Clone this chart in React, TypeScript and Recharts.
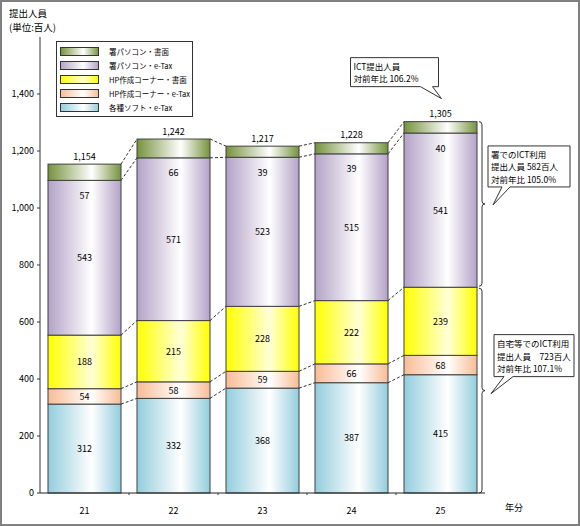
import React from 'react';
import { BarChart, Bar, XAxis, YAxis, Legend } from 'recharts';

const YEARS = ['21', '22', '23', '24', '25'];
const SOFT_ETAX = [312, 332, 368, 387, 415];
const HP_ETAX = [54, 58, 59, 66, 68];
const HP_PAPER = [188, 215, 228, 222, 239];
const OFFICE_ETAX = [543, 571, 523, 515, 541];
const OFFICE_PAPER = [57, 66, 39, 39, 40];
const TOTAL_LABELS = ['1,154', '1,242', '1,217', '1,228', '1,305'];
const Y_TICKS = [0, 200, 400, 600, 800, 1000, 1200, 1400];

const SERIES_KEYS = ['soft', 'hpEtax', 'hpPaper', 'officeEtax', 'officePaper'];
const SERIES_NAMES = ['各種ソフト・e-Tax', 'HP作成コーナー・e-Tax', 'HP作成コーナー・書面', '署パソコン・e-Tax', '署パソコン・書面'];
const SERIES_VALUES = [SOFT_ETAX, HP_ETAX, HP_PAPER, OFFICE_ETAX, OFFICE_PAPER];
const SERIES_COLORS = ['#93cddd', '#f8bc95', '#ffff00', '#b3a2c7', '#76923c'];
const SERIES_MID = ['#ffffff', '#ffffff', '#ffffd8', '#ffffff', '#ffffff'];

const ICT_NOTE = ['ICT提出人員', '対前年比 106.2%'];
const OFFICE_NOTE = ['署でのICT利用', '提出人員 582百人', '対前年比 105.0%'];
const HOME_NOTE = ['自宅等でのICT利用', '提出人員　723百人', '対前年比 107.1%'];

const data = YEARS.map((year, i) => {
  const row: any = { year };
  SERIES_KEYS.forEach((k, s) => { row[k] = SERIES_VALUES[s][i]; });
  return row;
});

const W = 580;
const H = 526;
const Y_W = 40;
const X_H = 33;
const MARGIN = { top: 37, right: 95, bottom: 0, left: 0 };
const PLOT_W = W - Y_W - MARGIN.right;
const STEP = PLOT_W / YEARS.length;
const PLOT_BOTTOM = H - X_H;
const FONT = '"Noto Sans CJK JP", "Noto Sans", sans-serif';
const NOTE_LH = 12.5;

const cum = (s: number, i: number) => SERIES_VALUES.slice(0, s).reduce((a, v) => a + v[i], 0);

function brace(xb: number, y1: number, y2: number) {
  const w = 3;
  const ym = (y1 + y2) / 2;
  return `M ${xb} ${y1} Q ${xb + w} ${y1} ${xb + w} ${y1 + w} L ${xb + w} ${ym - w} Q ${xb + w} ${ym} ${xb + 2 * w} ${ym} Q ${xb + w} ${ym} ${xb + w} ${ym + w} L ${xb + w} ${y2 - w} Q ${xb + w} ${y2} ${xb} ${y2}`;
}

function callout(left: number, top: number, right: number, bottom: number, b1: number, b2: number, tx: number, ty: number) {
  return `M ${left} ${top} H ${right} V ${bottom} H ${b2} L ${tx} ${ty} L ${b1} ${bottom} H ${left} Z`;
}

function noteText(lines: string[], x: number, y: number) {
  return lines.map((t, k) => (
    <text key={k} x={x} y={y + k * NOTE_LH} fontSize={8.5} fill="#000" fontFamily={FONT} dominantBaseline="central">{t}</text>
  ));
}

function makeShape(s: number) {
  return (props: any) => {
    const { x, y, width, height, index } = props;
    const v = SERIES_VALUES[s][index];
    const ratio = height / v;
    const base = y + height + cum(s, index) * ratio;
    const yOf = (val: number) => base - val * ratio;
    const cx = x + width / 2;
    const last = YEARS.length - 1;
    return (
      <g>
        <rect x={x} y={y} width={width} height={height} fill={`url(#grad${s})`} stroke="#404040" strokeWidth={1} />
        {index < last && (
          <line x1={x + width} y1={y} x2={x + STEP} y2={yOf(cum(s + 1, index + 1))} stroke="#333" strokeDasharray="3 2" />
        )}
        {s < 4 && (
          <text x={cx} y={y + height / 2} textAnchor="middle" dominantBaseline="central" fontSize={9} fontFamily={FONT} fill="#000">{v}</text>
        )}
        {s === 4 && (
          <>
            <text x={cx} y={y + height + 15} textAnchor="middle" dominantBaseline="central" fontSize={9} fontFamily={FONT} fill="#000">{v}</text>
            <text x={cx} y={y - 8} textAnchor="middle" dominantBaseline="central" fontSize={9} fontFamily={FONT} fill="#000">{TOTAL_LABELS[index]}</text>
          </>
        )}
        {s === 4 && index === last && (() => {
          const xb = x + width + 2;
          const yMid = yOf(cum(3, index));
          const yBot = yOf(0);
          const upMid = (y + yMid - 1) / 2;
          const lowMid = (yMid + 1 + yBot) / 2;
          const tx1 = xb + 14;
          const tx2 = xb + 12;
          return (
            <g>
              <path d={brace(xb, y, yMid - 1)} fill="none" stroke="#333" />
              <path d={brace(xb, yMid + 1, yBot)} fill="none" stroke="#333" />
              <path d={callout(cx - 90, y - 64, cx - 2, y - 35, cx - 20, cx - 8, cx + 1, y - 23)} fill="#fff" stroke="#333" />
              {noteText(ICT_NOTE, cx - 87, y - 56)}
              <path d={callout(tx1 - 5, upMid - 58, tx1 + 77, upMid - 17, tx1 + 9, tx1 + 17, tx1, upMid + 1)} fill="#fff" stroke="#333" />
              {noteText(OFFICE_NOTE, tx1 - 2, upMid - 50)}
              <path d={callout(tx2 + 3, lowMid - 56, tx2 + 83, lowMid - 14, tx2 + 13, tx2 + 22, tx2, lowMid + 3)} fill="#fff" stroke="#333" />
              {noteText(HOME_NOTE, tx2 + 6, lowMid - 47.5)}
            </g>
          );
        })()}
      </g>
    );
  };
}

function XTick(props: any) {
  const { x, index } = props;
  return (
    <g>
      <text x={x} y={PLOT_BOTTOM + 17} textAnchor="middle" dominantBaseline="central" fontSize={9} fontFamily={FONT} fill="#000">{YEARS[index]}</text>
      {index < YEARS.length - 1 && (
        <line x1={x + STEP / 2} y1={PLOT_BOTTOM} x2={x + STEP / 2} y2={PLOT_BOTTOM + 2} stroke="#333" />
      )}
    </g>
  );
}

function LegendBox() {
  const order = [4, 3, 2, 1, 0];
  return (
    <svg width={138} height={77} style={{ display: 'block' }}>
      <defs>
        {SERIES_COLORS.map((c, s) => (
          <linearGradient key={s} id={`lgrad${s}`} x1="0" y1="0" x2="1" y2="0">
            <stop offset="0" stopColor={c} />
            <stop offset="0.6" stopColor={SERIES_MID[s]} />
            <stop offset="1" stopColor={c} />
          </linearGradient>
        ))}
      </defs>
      <rect x={0.5} y={0.5} width={136} height={75} fill="#fff" stroke="#333" />
      {order.map((s, k) => (
        <g key={s}>
          <rect x={4.5} y={6.5 + k * 14} width={38} height={8} fill={`url(#lgrad${s})`} stroke="#333" />
          <text x={53} y={10.5 + k * 14} fontSize={7.5} fontFamily={FONT} fill="#000" dominantBaseline="central">{SERIES_NAMES[s]}</text>
        </g>
      ))}
    </svg>
  );
}

export default function App() {
  return (
    <div style={{ position: 'absolute', left: 0, top: 0, width: W, height: H, background: '#fff', fontFamily: FONT }}>
      <BarChart width={W} height={H} data={data} margin={MARGIN} barCategoryGap={8}>
        <defs>
          {SERIES_COLORS.map((c, s) => (
            <linearGradient key={s} id={`grad${s}`} x1="0" y1="0" x2="1" y2="0">
              <stop offset="0" stopColor={c} />
              <stop offset="0.6" stopColor={SERIES_MID[s]} />
              <stop offset="1" stopColor={c} />
            </linearGradient>
          ))}
        </defs>
        <XAxis dataKey="year" height={X_H} axisLine={{ stroke: '#222' }} tickLine={false} tick={<XTick />} interval={0} />
        <XAxis xAxisId="top" dataKey="year" orientation="top" height={0} tick={false} tickLine={false} axisLine={{ stroke: '#333' }} />
        <YAxis
          width={Y_W}
          domain={[0, 1600]}
          ticks={Y_TICKS}
          interval={0}
          tickSize={3}
          tickMargin={3}
          tickLine={{ stroke: '#333' }}
          axisLine={{ stroke: '#333' }}
          tick={{ fontSize: 9, fill: '#000', fontFamily: FONT }}
          tickFormatter={(v: number) => v.toLocaleString('en-US')}
        />
        <YAxis yAxisId="right" orientation="right" width={0} tick={false} tickLine={false} axisLine={{ stroke: '#333' }} />
        <Legend
          layout="vertical"
          align="center"
          verticalAlign="middle"
          content={() => <LegendBox />}
          wrapperStyle={{ position: 'absolute', left: 56, top: 41, width: 138, height: 77 }}
        />
        {SERIES_KEYS.map((k, s) => (
          <Bar key={k} dataKey={k} name={SERIES_NAMES[s]} stackId="a" fill={SERIES_COLORS[s]} shape={makeShape(s)} isAnimationActive={false} />
        ))}
      </BarChart>
      <div style={{ position: 'absolute', left: 9, top: 6, fontSize: 9.5, lineHeight: '14px', color: '#000' }}>
        <div>提出人員</div>
        <div>(単位:百人)</div>
      </div>
      <div style={{ position: 'absolute', left: 505, top: 501, fontSize: 9, color: '#000' }}>年分</div>
      <div style={{ position: 'absolute', left: 0, top: 0, width: W, height: H, boxSizing: 'border-box', border: '2px solid #808080', pointerEvents: 'none' }} />
    </div>
  );
}
